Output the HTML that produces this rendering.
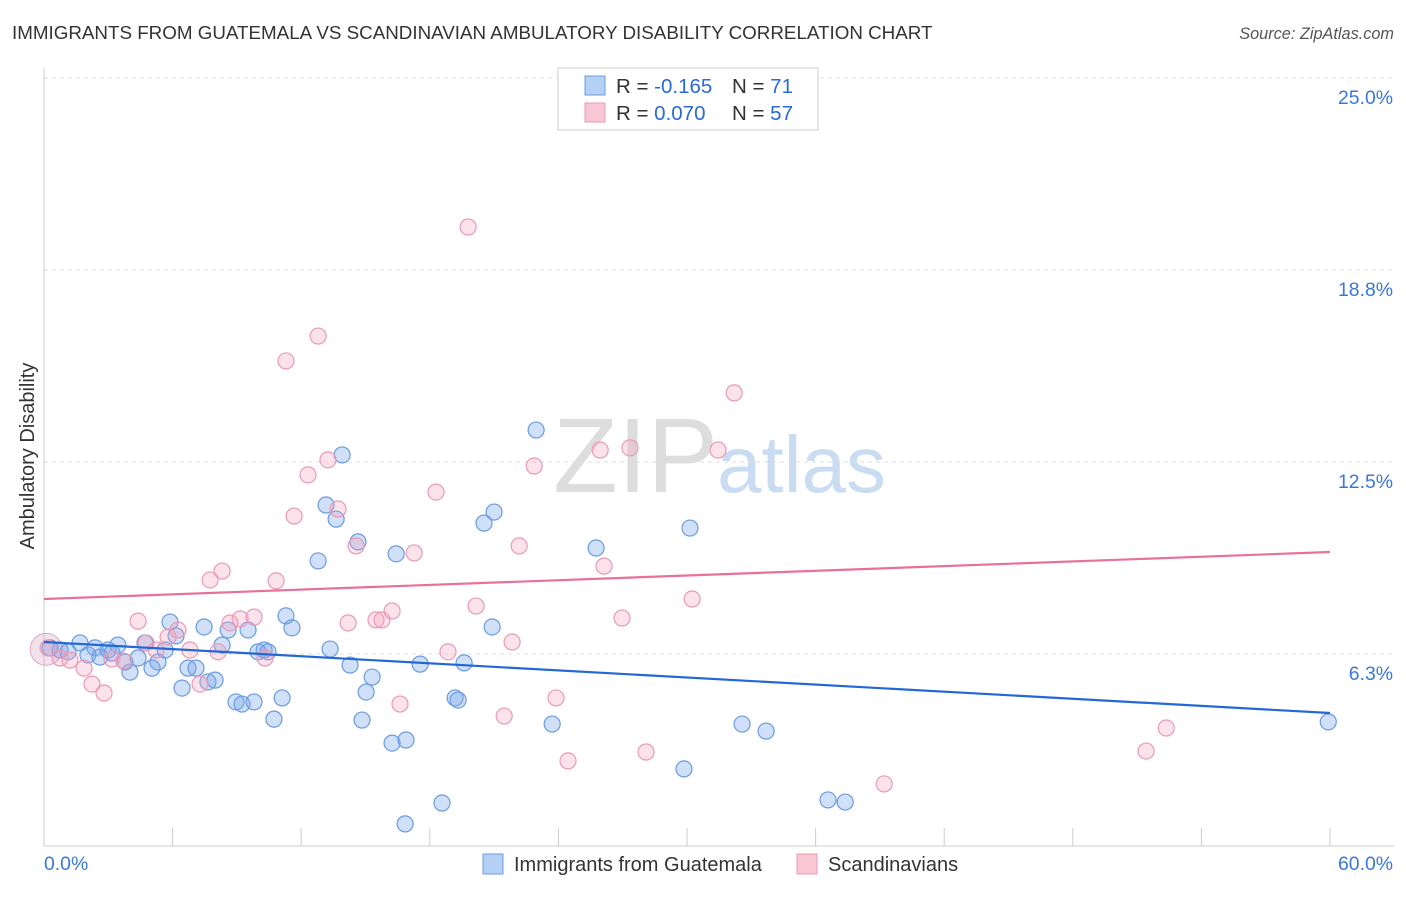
<!DOCTYPE html>
<html><head><meta charset="utf-8"><style>
body{margin:0;background:#fff;font-family:"Liberation Sans",sans-serif;}
svg text{font-family:"Liberation Sans",sans-serif;}
</style></head><body>
<svg width="1406" height="892" xmlns="http://www.w3.org/2000/svg">
<text x="12" y="39" font-size="18.8" fill="#333">IMMIGRANTS FROM GUATEMALA VS SCANDINAVIAN AMBULATORY DISABILITY CORRELATION CHART</text>
<text x="1394" y="39" font-size="16.3" fill="#555" font-style="italic" text-anchor="end">Source: ZipAtlas.com</text>
<text x="34" y="456" font-size="20" fill="#333" text-anchor="middle" transform="rotate(-90 34 456)">Ambulatory Disability</text>
<g><text x="553" y="492" font-size="106" fill="#ddd" font-family="Liberation Serif">ZIP</text><text x="717" y="492" font-size="80" fill="#c9dcf2">atlas</text></g>
<g id="grid"></g><g id="axes"></g><g id="pts"></g><g id="lines"></g>
<g>
<rect x="558" y="68" width="260" height="62" fill="#fff" stroke="#ccc"/>
<rect x="585" y="76" width="20" height="19" fill="#b5d0f5" stroke="#6a9be0"/>
<rect x="585" y="103" width="20" height="19" fill="#f9c6d6" stroke="#e89ab5"/>
<text x="616" y="93" font-size="20.5" fill="#333">R = <tspan fill="#2a6ad4">-0.165</tspan></text>
<text x="732" y="93" font-size="20.5" fill="#333">N = <tspan fill="#2a6ad4"> 71</tspan></text>
<text x="616" y="120" font-size="20.5" fill="#333">R = <tspan fill="#2a6ad4"> 0.070</tspan></text>
<text x="732" y="120" font-size="20.5" fill="#333">N = <tspan fill="#2a6ad4">57</tspan></text>
</g>
<g>
<rect x="483" y="854" width="20" height="20" fill="#b5d0f5" stroke="#6a9be0"/>
<text x="514" y="871" font-size="20" fill="#333">Immigrants from Guatemala</text>
<rect x="797" y="854" width="20" height="20" fill="#f9c6d6" stroke="#e89ab5"/>
<text x="828" y="871" font-size="20" fill="#333">Scandinavians</text>
</g>
</svg>
<script>
const yTicks=[6.25,12.5,18.75,25];
const yTickLabels=["6.3%","12.5%","18.8%","25.0%"];
const xTicks=[0,6,12,18,24,30,36,42,48,54,60];
const blueX=[0.28,0.75,1.12,1.68,2.05,2.38,2.61,2.99,3.17,3.45,3.78,4.01,4.39,4.71,5.04,5.32,5.65,5.88,6.16,6.44,6.72,7.09,7.47,7.65,7.98,8.31,8.59,8.96,9.24,9.52,9.8,9.99,10.27,10.45,10.73,11.11,11.29,11.57,12.79,13.16,13.35,13.63,13.91,14.28,14.65,14.84,15.03,15.31,16.24,16.43,16.89,16.85,17.55,18.57,19.18,19.32,19.6,20.53,20.91,21.0,22.96,23.71,25.76,29.86,30.14,32.57,33.69,36.58,37.38,59.92];
const blueY=[6.45,6.38,6.32,6.61,6.22,6.45,6.15,6.38,6.28,6.54,5.99,5.66,6.12,6.61,5.79,5.99,6.38,7.29,6.84,5.14,5.79,5.79,7.13,5.34,5.4,6.54,7.03,4.69,4.62,7.03,4.69,6.32,6.38,6.32,4.13,4.82,7.49,7.1,9.28,11.1,6.41,10.64,12.73,5.89,9.9,4.1,5.01,5.5,3.35,9.51,3.45,0.72,5.92,1.4,4.82,4.75,5.96,10.51,7.13,10.87,13.54,3.97,9.7,2.51,10.35,3.97,3.74,1.5,1.43,4.04];
const pinkX=[0.19,0.75,1.21,1.87,2.24,2.8,3.17,3.73,4.39,4.76,5.23,5.79,6.25,6.81,7.28,7.75,8.12,8.31,8.68,9.15,9.8,10.31,10.83,11.29,11.67,12.32,12.79,13.25,13.72,14.19,14.56,15.49,15.77,16.24,16.61,17.27,18.29,18.85,19.79,20.16,21.47,21.84,22.17,22.87,23.89,24.45,25.95,26.13,26.97,27.34,28.09,30.24,31.45,32.2,39.2,51.42,52.36,27.9];
const pinkY=[6.45,6.12,6.05,5.79,5.27,4.98,6.09,6.02,7.32,6.61,6.38,6.8,7.03,6.38,5.27,8.66,6.32,8.95,7.26,7.39,7.45,6.12,8.63,15.79,10.74,12.08,16.6,12.57,10.97,7.26,9.77,7.36,7.36,7.65,4.62,9.54,11.52,6.32,20.15,7.81,4.23,6.64,9.77,12.37,4.82,2.77,12.89,9.11,7.42,12.96,3.06,8.04,12.89,14.75,2.02,3.09,3.84,24.54];
const blueTrend=[6.64,4.33];
const pinkTrend=[8.04,9.57];
const NS="http://www.w3.org/2000/svg";
const X0=44,X1=1330,Y0=846;
const sx=v=>X0+(X1-X0)*v/60;
const sy=v=>Y0-v*192/6.25;
function mk(t,a,p){const e=document.createElementNS(NS,t);for(const k in a)e.setAttribute(k,a[k]);p.appendChild(e);return e;}
const grid=document.getElementById('grid'),axes=document.getElementById('axes');
yTicks.forEach((t,i)=>{
 const l=mk('line',{x1:X0,x2:1394,y1:sy(t),y2:sy(t),stroke:'#ddd','stroke-dasharray':'4,4'},grid);
 
 
 const tx=mk('text',{x:1393,y:sy(t)+26,'font-size':19.4,fill:'#3a78d8','text-anchor':'end'},axes);
 tx.textContent=yTickLabels[i];
 
 
});
const ax=mk('line',{x1:X0,x2:X0,y1:68,y2:Y0,stroke:'#ccc'},axes);


const bx=mk('line',{x1:X0,x2:1394,y1:Y0,y2:Y0,stroke:'#ccc'},axes);


xTicks.forEach(t=>{
 const l=mk('line',{x1:sx(t),x2:sx(t),y1:Y0,y2:Y0-18,stroke:'#ccc'},axes);
 
 
});
const xl=mk('text',{x:44,y:870,'font-size':19.4,fill:'#3a78d8'},axes);xl.textContent='0.0%';


const xr=mk('text',{x:1393,y:870,'font-size':19.4,fill:'#3a78d8','text-anchor':'end'},axes);xr.textContent='60.0%';


const pts=document.getElementById('pts');
const big=mk('circle',{cx:sx(0.1),cy:sy(6.4),r:16,fill:'rgba(220,170,200,0.35)',stroke:'#d8a8c4'},pts);


blueX.forEach((v,i)=>{
 const c=mk('circle',{cx:sx(v),cy:sy(blueY[i]),r:8,fill:'rgba(120,165,235,0.35)',stroke:'#6a9be0','stroke-width':1.2},pts);
 
 
});
pinkX.forEach((v,i)=>{
 const c=mk('circle',{cx:sx(v),cy:sy(pinkY[i]),r:8,fill:'rgba(245,160,190,0.3)',stroke:'#e89ab5','stroke-width':1.2},pts);
 
 
});
const lines=document.getElementById('lines');
const bl=mk('line',{x1:sx(0),y1:sy(blueTrend[0]),x2:sx(60),y2:sy(blueTrend[1]),stroke:'#2468d4','stroke-width':2.2},lines);


const pl=mk('line',{x1:sx(0),y1:sy(pinkTrend[0]),x2:sx(60),y2:sy(pinkTrend[1]),stroke:'#e8709a','stroke-width':2.2},lines);


</script>
</body></html>
